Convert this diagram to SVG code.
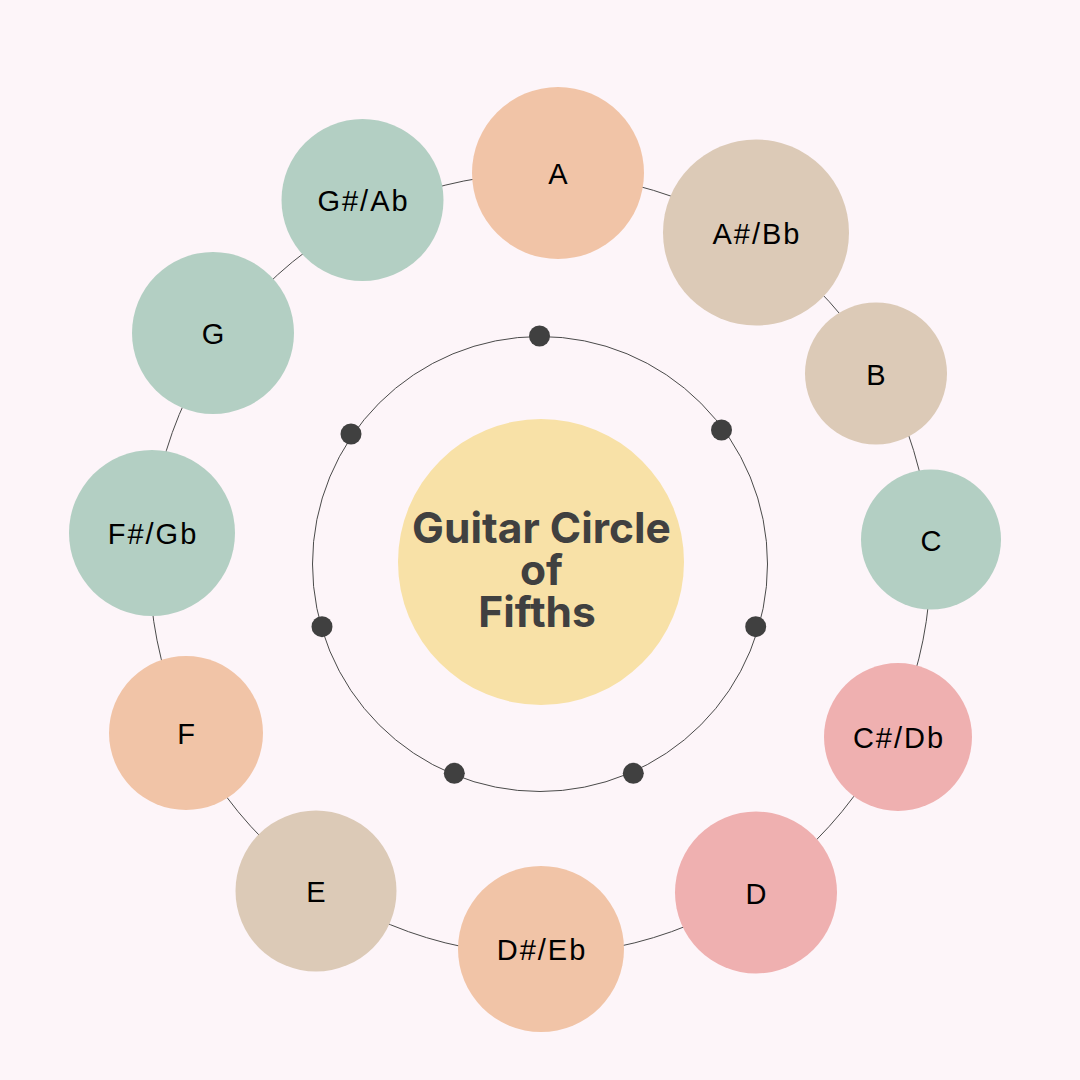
<svg xmlns="http://www.w3.org/2000/svg" width="1080" height="1080" viewBox="0 0 1080 1080">
  <style>
    .ring { fill: none; stroke: #4a4a4a; stroke-width: 1; }
    .dot { fill: #404040; }
    .peach { fill: #f1c4a7; }
    .beige { fill: #dccab7; }
    .green { fill: #b3cfc3; }
    .pink { fill: #efb0b0; }
    .lbl { font-family: "Liberation Sans", Arial, sans-serif; font-size: 29px; letter-spacing: 2px; fill: #000; text-anchor: middle; }
    .title { font-family: Inter, "Liberation Sans", sans-serif; font-weight: 700; font-size: 42.5px; fill: #404040; text-anchor: middle; }
  </style>
  <rect width="1080" height="1080" fill="#fdf5f9"/>
  <g id="connectors">
    <circle class="ring" cx="540" cy="564" r="390.5"/>
    <circle class="ring" cx="540" cy="564" r="227.5"/>
  </g>
  <g id="inner-dots">
    <circle class="dot" cx="539.5" cy="336" r="10.5"/>
    <circle class="dot" cx="721.5" cy="430" r="10.5"/>
    <circle class="dot" cx="755.7" cy="626.7" r="10.5"/>
    <circle class="dot" cx="633.3" cy="773.3" r="10.5"/>
    <circle class="dot" cx="454.3" cy="773.3" r="10.5"/>
    <circle class="dot" cx="322" cy="626.7" r="10.5"/>
    <circle class="dot" cx="351" cy="434" r="10.5"/>
  </g>
  <g id="center">
    <circle cx="541" cy="562" r="143" fill="#f8e1a7"/>
    <text class="title" x="541.5" y="542.5">Guitar Circle</text>
    <text class="title" x="541.5" y="585">of</text>
    <text class="title" x="537" y="627">Fifths</text>
  </g>
  <g id="node-A"><circle class="peach" cx="558" cy="173" r="86"/><text class="lbl" x="559" y="184">A</text></g>
  <g id="node-ASharp-Bb"><circle class="beige" cx="756" cy="232.5" r="93"/><text class="lbl" x="757" y="243.5">A#/Bb</text></g>
  <g id="node-B"><circle class="beige" cx="876" cy="373.5" r="71"/><text class="lbl" x="877" y="384.5">B</text></g>
  <g id="node-C"><circle class="green" cx="931" cy="539.5" r="70"/><text class="lbl" x="932" y="550.5">C</text></g>
  <g id="node-CSharp-Db"><circle class="pink" cx="898" cy="737" r="74"/><text class="lbl" x="899" y="748">C#/Db</text></g>
  <g id="node-D"><circle class="pink" cx="756" cy="892.5" r="81"/><text class="lbl" x="757" y="903.5">D</text></g>
  <g id="node-DSharp-Eb"><circle class="peach" cx="541" cy="949" r="83"/><text class="lbl" x="542" y="960">D#/Eb</text></g>
  <g id="node-E"><circle class="beige" cx="316" cy="891" r="80.5"/><text class="lbl" x="317" y="902">E</text></g>
  <g id="node-F"><circle class="peach" cx="186" cy="733" r="77"/><text class="lbl" x="187" y="744">F</text></g>
  <g id="node-FSharp-Gb"><circle class="green" cx="152" cy="533" r="83"/><text class="lbl" x="153" y="544">F#/Gb</text></g>
  <g id="node-G"><circle class="green" cx="213" cy="333" r="81"/><text class="lbl" x="214" y="344">G</text></g>
  <g id="node-GSharp-Ab"><circle class="green" cx="362.5" cy="200" r="81"/><text class="lbl" x="363.5" y="211">G#/Ab</text></g>
</svg>
